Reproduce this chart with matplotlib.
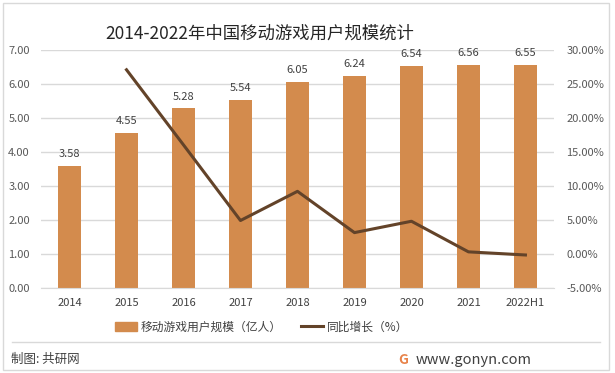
import matplotlib
matplotlib.use("Agg")
import matplotlib.pyplot as plt
from matplotlib.patches import Rectangle
from matplotlib.lines import Line2D

plt.rcParams["font.family"] = ["Noto Sans CJK SC", "DejaVu Sans"]
plt.rcParams["axes.unicode_minus"] = False

# 数据
years = ["2014", "2015", "2016", "2017", "2018", "2019", "2020", "2021", "2022H1"]
users = [3.58, 4.55, 5.28, 5.54, 6.05, 6.24, 6.54, 6.56, 6.55]
growth_years = ["2015", "2016", "2017", "2018", "2019", "2020", "2021", "2022H1"]
growth = [27.09, 16.04, 4.92, 9.21, 3.14, 4.81, 0.31, -0.15]

bar_color = "#D38B4D"
line_color = "#634329"
grid_color = "#D9D9D9"
text_color = "#595959"

fig = plt.figure(figsize=(6.15, 3.73), dpi=100)
ax = fig.add_axes([0.0667, 0.228, 0.834, 0.638])

x = list(range(len(years)))
ax.bar(x, users, width=0.4, color=bar_color, zorder=2)
for xi, v in zip(x, users):
    ax.text(xi, v + 0.2, f"{v:.2f}", ha="center", va="bottom", fontsize=8, color="#404040")

ax.set_ylim(0, 7)
ax.set_yticks([0, 1, 2, 3, 4, 5, 6, 7])
ax.set_yticklabels([f"{v:.2f}" for v in range(8)])
ax.set_xlim(-0.5, len(years) - 0.5)
ax.set_xticks(x)
ax.set_xticklabels(years)
ax.yaxis.grid(True, color=grid_color, linewidth=1, zorder=0)
ax.set_axisbelow(True)
for s in ax.spines.values():
    s.set_visible(False)
ax.spines["bottom"].set_visible(True)
ax.spines["bottom"].set_color(grid_color)
ax.tick_params(axis="y", length=0, pad=8, labelsize=8, labelcolor=text_color)
ax.tick_params(axis="x", length=0, pad=7, labelsize=8, labelcolor="#404040")

# 同比增长
ax2 = ax.twinx()
gx = [years.index(y) for y in growth_years]
ax2.plot(gx, growth, color=line_color, linewidth=2.2, zorder=3)
ax2.set_ylim(-5, 30)
ax2.set_yticks([-5, 0, 5, 10, 15, 20, 25, 30])
ax2.set_yticklabels([f"{v:.2f}%" for v in [-5, 0, 5, 10, 15, 20, 25, 30]])
for s in ax2.spines.values():
    s.set_visible(False)
ax2.tick_params(axis="y", length=0, pad=9, labelsize=8, labelcolor=text_color)

# 标题
fig.text(0.423, 0.91, "2014-2022年中国移动游戏用户规模统计", ha="center", va="center",
         fontsize=12.5, color="#262626")

# 图例
handles = [Rectangle((0, 0), 1, 1, color=bar_color),
           Line2D([0], [0], color=line_color, linewidth=2.2)]
fig.legend(handles, ["移动游戏用户规模（亿人）", "同比增长（%）"], loc="center",
           bbox_to_anchor=(0.425, 0.123), ncol=2, frameon=False, fontsize=8.5,
           handlelength=1.9, handleheight=0.9, columnspacing=1.6, handletextpad=0.3,
           labelcolor="#404040")

# 底部信息
fig.add_artist(Line2D([0.02, 0.975], [0.083, 0.083], color="#D9D9D9", linewidth=1))
fig.text(0.018, 0.035, "制图: 共研网", ha="left", va="center", fontsize=9, color="#404040")
fig.text(0.655, 0.035, "G", ha="center", va="center", fontsize=10, fontweight="bold",
         color="#E8834A")
fig.text(0.675, 0.035, "www.gonyn.com", ha="left", va="center", fontsize=10.5, color="#404040")

# 外框
fig.add_artist(Rectangle((0.005, 0.008), 0.985, 0.985, fill=False, edgecolor="#D9D9D9",
                         linewidth=1, transform=fig.transFigure))

fig.savefig("out.png", dpi=100)
